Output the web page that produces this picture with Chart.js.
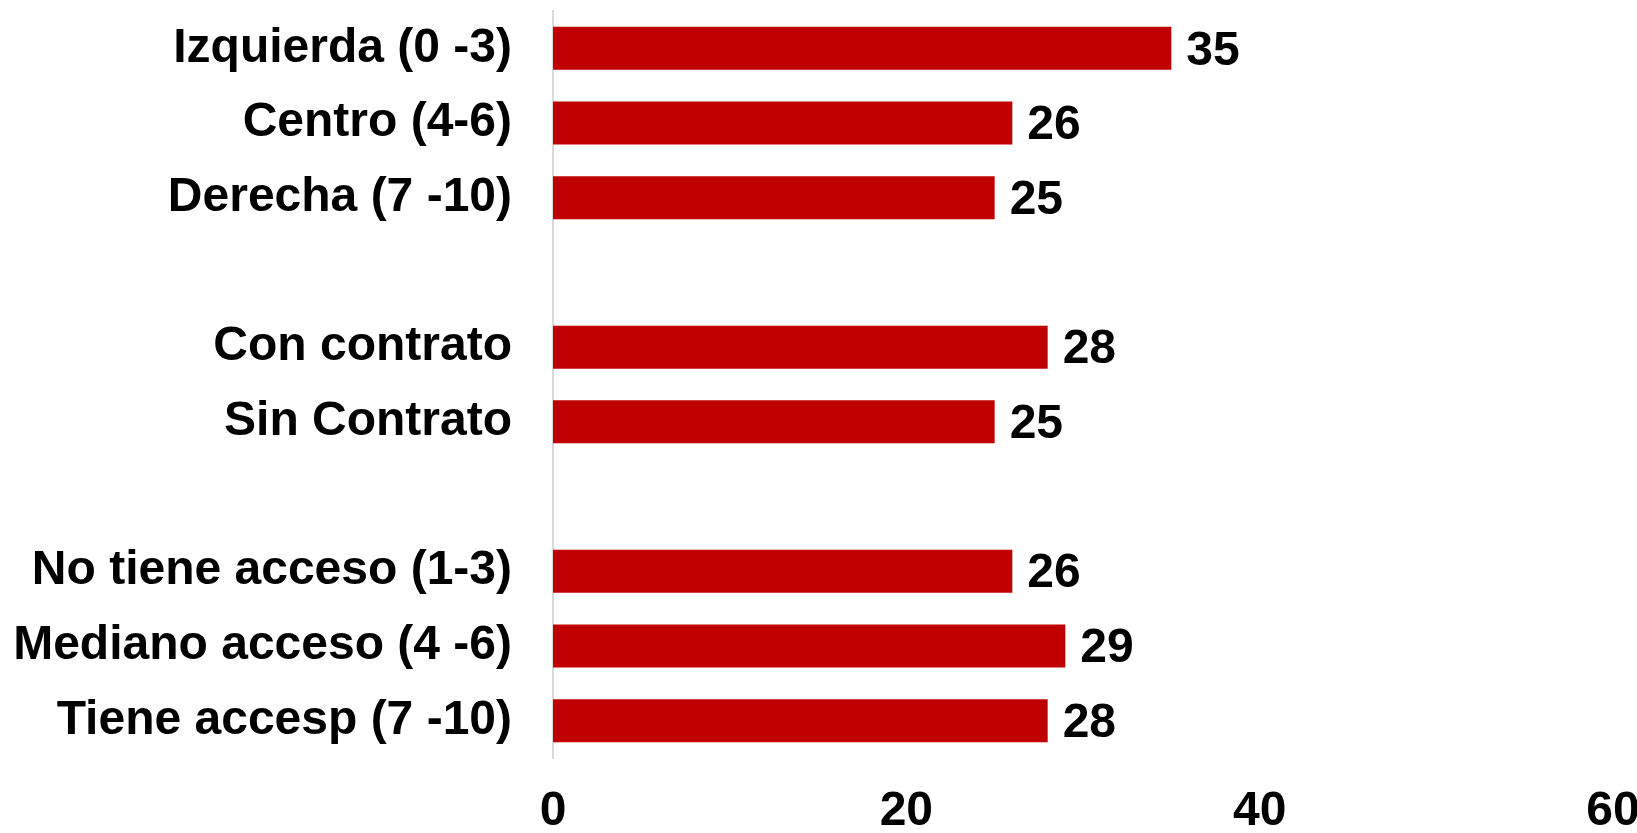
<!DOCTYPE html>
<html>
<head>
<meta charset="utf-8">
<script src="https://cdn.jsdelivr.net/npm/chart.js@4"></script>
<style>
  html, body { margin: 0; padding: 0; background: #fff; }
  #wrap { width: 1637px; height: 833px; position: relative; }
</style>
</head>
<body>
<div id="wrap"><canvas id="chart"></canvas></div>
<script>
// categorias (los vacios son separadores entre grupos)
const categories = [
    'Izquierda (0 -3)',
    'Centro (4-6)',
    'Derecha (7 -10)',
    '',
    'Con contrato',
    'Sin Contrato',
    '',
    'No tiene acceso (1-3)',
    'Mediano acceso (4 -6)',
    'Tiene accesp (7 -10)'
];
const values = [35, 26, 25, null, 28, 25, null, 26, 29, 28];
const xTicks = [0, 20, 40, 60];

const FONT = "'Liberation Sans', Arial, Helvetica, sans-serif";
const ctx = document.getElementById('chart').getContext('2d');

// Etiquetas de valor al final de cada barra
const valueLabels = {
    id: 'valueLabels',
    afterDatasetsDraw(chart) {
        const c = chart.ctx;
        const meta = chart.getDatasetMeta(0);
        c.save();
        c.font = `bold 48px ${FONT}`;
        c.fillStyle = '#000';
        c.textAlign = 'left';
        c.textBaseline = 'middle';
        meta.data.forEach((bar, i) => {
            const v = values[i];
            if (v === null) return;
            c.fillText(String(v), bar.x + 15, bar.y + 3);
        });
        c.restore();
    }
};

new Chart(ctx, {
    type: 'bar',
    data: {
        labels: categories,
        datasets: [{
            data: values,
            backgroundColor: '#C00000',
            borderWidth: 0,
            categoryPercentage: 1,
            barPercentage: 0.575
        }]
    },
    options: {
        indexAxis: 'y',
        responsive: true,
        maintainAspectRatio: false,
        animation: false,
        layout: { padding: { top: 11, left: 0, right: 0, bottom: 0 } },
        plugins: {
            legend: { display: false },
            tooltip: { enabled: false }
        },
        scales: {
            x: {
                min: 0,
                max: 60,
                afterBuildTicks: (scale) => {
                    scale.ticks = xTicks.map(v => ({ value: v }));
                },
                afterFit: (scale) => {
                    scale.height = 75;
                    scale.paddingLeft = 0;
                    scale.paddingRight = 24;
                },
                grid: { display: false, drawTicks: false },
                border: { display: false },
                ticks: {
                    color: '#000',
                    padding: 30,
                    maxRotation: 0,
                    font: { family: FONT, size: 48, weight: 'bold', lineHeight: 1 }
                }
            },
            y: {
                afterFit: (scale) => {
                    scale.width = 553;
                    scale.paddingTop = 0;
                    scale.paddingBottom = 0;
                },
                grid: { display: false, drawTicks: false },
                border: { display: true, color: '#d9d9d9', width: 2 },
                ticks: {
                    color: '#000',
                    padding: 41,
                    autoSkip: false,
                    font: { family: FONT, size: 48, weight: 'bold' }
                }
            }
        }
    },
    plugins: [valueLabels]
});
</script>
</body>
</html>
